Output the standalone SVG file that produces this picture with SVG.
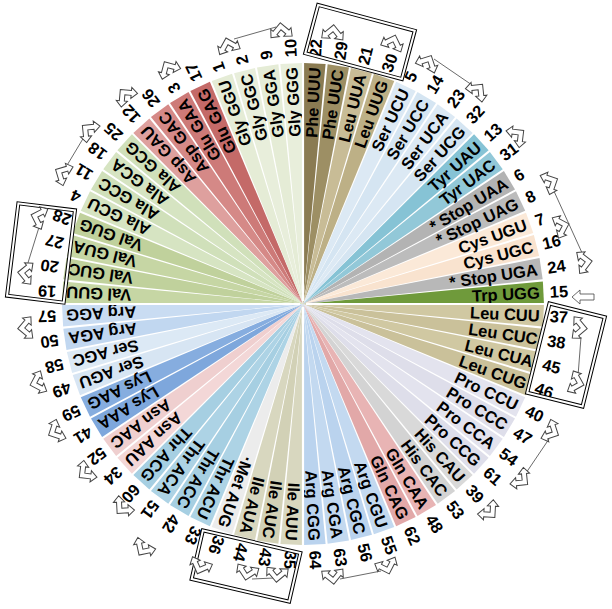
<svg xmlns="http://www.w3.org/2000/svg" xmlns:xlink="http://www.w3.org/1999/xlink" width="612" height="609" viewBox="0 0 612 609">
<style>
.w{stroke:none}
.l{font-family:"Liberation Sans",Arial,sans-serif;font-weight:bold;font-size:16.5px;fill:#000;text-anchor:end;dominant-baseline:central}
.n{font-family:"Liberation Sans",Arial,sans-serif;font-weight:bold;font-size:16.5px;fill:#000;text-anchor:start;dominant-baseline:central}
.a{fill:#fff;stroke:#444;stroke-width:0.8;stroke-linejoin:miter}
.c{fill:none;stroke:#444;stroke-width:0.8}
.g{stroke:#fff;stroke-width:2.2}
.bo{fill:none;stroke:#000;stroke-width:4}
.bi{fill:none;stroke:#fff;stroke-width:2}
</style>
<defs>
<polygon id="w" class="w" points="0,0 240.7,-10.8 240.7,10.8"/>
<path id="ar" d="M0,-5.8 L6.36,0.54 L8.13,-1.23 L8.49,5.49 L1.77,5.13 L3.54,3.36 L0,-0.17 L-3.54,3.36 L-1.77,5.13 L-8.49,5.49 L-8.13,-1.23 L-6.36,0.54 Z"/>
</defs>
<rect width="612" height="609" fill="#fff"/>
<g id="wheel" transform="translate(303,304)">
<g id="n0" transform="rotate(-87.1875)"><use href="#w" fill="#8a7b52"/><text class="l" x="237">Phe UUU</text><text class="n" x="247">22</text></g>
<g id="n1" transform="rotate(-81.5625)"><use href="#w" fill="#9d8f64"/><text class="l" x="237">Phe UUC</text><text class="n" x="247">29</text></g>
<g id="n2" transform="rotate(-75.9375)"><use href="#w" fill="#c8bc96"/><text class="l" x="237">Leu UUA</text><text class="n" x="247">21</text></g>
<g id="n3" transform="rotate(-70.3125)"><use href="#w" fill="#bdb086"/><text class="l" x="237">Leu UUG</text><text class="n" x="247">30</text></g>
<g id="n4" transform="rotate(-64.6875)"><use href="#w" fill="#dce9f4"/><text class="l" x="237">Ser UCU</text><text class="n" x="247">5</text></g>
<g id="n5" transform="rotate(-59.0625)"><use href="#w" fill="#d5e5f2"/><text class="l" x="237">Ser UCC</text><text class="n" x="247">14</text></g>
<g id="n6" transform="rotate(-53.4375)"><use href="#w" fill="#dce9f4"/><text class="l" x="237">Ser UCA</text><text class="n" x="247">23</text></g>
<g id="n7" transform="rotate(-47.8125)"><use href="#w" fill="#d5e5f2"/><text class="l" x="237">Ser UCG</text><text class="n" x="247">32</text></g>
<g id="n8" transform="rotate(-42.1875)"><use href="#w" fill="#86c3d5"/><text class="l" x="237">Tyr UAU</text><text class="n" x="247">13</text></g>
<g id="n9" transform="rotate(-36.5625)"><use href="#w" fill="#92c8d8"/><text class="l" x="237">Tyr UAC</text><text class="n" x="247">31</text></g>
<g id="n10" transform="rotate(-30.9375)"><use href="#w" fill="#b3b3b3"/><text class="l" x="237">* Stop UAA</text><text class="n" x="247">6</text></g>
<g id="n11" transform="rotate(-25.3125)"><use href="#w" fill="#bcbcbc"/><text class="l" x="237">* Stop UAG</text><text class="n" x="247">8</text></g>
<g id="n12" transform="rotate(-19.6875)"><use href="#w" fill="#fbe9d8"/><text class="l" x="237">Cys UGU</text><text class="n" x="247">7</text></g>
<g id="n13" transform="rotate(-14.0625)"><use href="#w" fill="#f9e3cf"/><text class="l" x="237">Cys UGC</text><text class="n" x="247">16</text></g>
<g id="n14" transform="rotate(-8.4375)"><use href="#w" fill="#b8b8b8"/><text class="l" x="237">* Stop UGA</text><text class="n" x="247">24</text></g>
<g id="n15" transform="rotate(-2.8125)"><use href="#w" fill="#6f9a3b"/><text class="l" x="237">Trp UGG</text><text class="n" x="247">15</text></g>
<g id="n16" transform="rotate(2.8125)"><use href="#w" fill="#d0c8a2"/><text class="l" x="237">Leu CUU</text><text class="n" x="247">37</text></g>
<g id="n17" transform="rotate(8.4375)"><use href="#w" fill="#cac19a"/><text class="l" x="237">Leu CUC</text><text class="n" x="247">38</text></g>
<g id="n18" transform="rotate(14.0625)"><use href="#w" fill="#d0c8a2"/><text class="l" x="237">Leu CUA</text><text class="n" x="247">45</text></g>
<g id="n19" transform="rotate(19.6875)"><use href="#w" fill="#cac19a"/><text class="l" x="237">Leu CUG</text><text class="n" x="247">46</text></g>
<g id="n20" transform="rotate(25.3125)"><use href="#w" fill="#e3e3ee"/><text class="l" x="237">Pro CCU</text><text class="n" x="247">40</text></g>
<g id="n21" transform="rotate(30.9375)"><use href="#w" fill="#dedeea"/><text class="l" x="237">Pro CCC</text><text class="n" x="247">47</text></g>
<g id="n22" transform="rotate(36.5625)"><use href="#w" fill="#e3e3ee"/><text class="l" x="237">Pro CCA</text><text class="n" x="247">54</text></g>
<g id="n23" transform="rotate(42.1875)"><use href="#w" fill="#dedeea"/><text class="l" x="237">Pro CCG</text><text class="n" x="247">61</text></g>
<g id="n24" transform="rotate(47.8125)"><use href="#w" fill="#d9d9d9"/><text class="l" x="237">His CAU</text><text class="n" x="247">39</text></g>
<g id="n25" transform="rotate(53.4375)"><use href="#w" fill="#d3d3d3"/><text class="l" x="237">His CAC</text><text class="n" x="247">53</text></g>
<g id="n26" transform="rotate(59.0625)"><use href="#w" fill="#e8b4b4"/><text class="l" x="237">Gln CAA</text><text class="n" x="247">48</text></g>
<g id="n27" transform="rotate(64.6875)"><use href="#w" fill="#e2a8a8"/><text class="l" x="237">Gln CAG</text><text class="n" x="247">62</text></g>
<g id="n28" transform="rotate(70.3125)"><use href="#w" fill="#c3d9f0"/><text class="l" x="237">Arg CGU</text><text class="n" x="247">55</text></g>
<g id="n29" transform="rotate(75.9375)"><use href="#w" fill="#bad3ee"/><text class="l" x="237">Arg CGC</text><text class="n" x="247">56</text></g>
<g id="n30" transform="rotate(81.5625)"><use href="#w" fill="#c3d9f0"/><text class="l" x="237">Arg CGA</text><text class="n" x="247">63</text></g>
<g id="n31" transform="rotate(87.1875)"><use href="#w" fill="#bad3ee"/><text class="l" x="237">Arg CGG</text><text class="n" x="247">64</text></g>
<g id="n32" transform="rotate(92.8125)"><use href="#w" fill="#d8d7bf"/><text class="l" x="237">Ile AUU</text><text class="n" x="247">35</text></g>
<g id="n33" transform="rotate(98.4375)"><use href="#w" fill="#d2d1b6"/><text class="l" x="237">Ile AUC</text><text class="n" x="247">43</text></g>
<g id="n34" transform="rotate(104.0625)"><use href="#w" fill="#d8d7bf"/><text class="l" x="237">Ile AUA</text><text class="n" x="247">44</text></g>
<g id="n35" transform="rotate(109.6875)"><use href="#w" fill="#ececec"/><text class="l" x="237">·Met AUG</text><text class="n" x="247">36</text></g>
<g id="n36" transform="rotate(115.3125)"><use href="#w" fill="#add3e5"/><text class="l" x="237">Thr ACU</text><text class="n" x="247">33</text></g>
<g id="n37" transform="rotate(120.9375)"><use href="#w" fill="#a6cfe2"/><text class="l" x="237">Thr ACC</text><text class="n" x="247">42</text></g>
<g id="n38" transform="rotate(126.5625)"><use href="#w" fill="#add3e5"/><text class="l" x="237">Thr ACA</text><text class="n" x="247">51</text></g>
<g id="n39" transform="rotate(132.1875)"><use href="#w" fill="#a6cfe2"/><text class="l" x="237">Thr ACG</text><text class="n" x="247">60</text></g>
<g id="n40" transform="rotate(137.8125)"><use href="#w" fill="#f3d7d7"/><text class="l" x="237">Asn AAU</text><text class="n" x="247">34</text></g>
<g id="n41" transform="rotate(143.4375)"><use href="#w" fill="#efcfcf"/><text class="l" x="237">Asn AAC</text><text class="n" x="247">52</text></g>
<g id="n42" transform="rotate(149.0625)"><use href="#w" fill="#7ea7dc"/><text class="l" x="237">Lys AAA</text><text class="n" x="247">41</text></g>
<g id="n43" transform="rotate(154.6875)"><use href="#w" fill="#86addf"/><text class="l" x="237">Lys AAG</text><text class="n" x="247">59</text></g>
<g id="n44" transform="rotate(160.3125)"><use href="#w" fill="#d7e5f3"/><text class="l" x="237">Ser AGU</text><text class="n" x="247">49</text></g>
<g id="n45" transform="rotate(165.9375)"><use href="#w" fill="#dce9f5"/><text class="l" x="237">Ser AGC</text><text class="n" x="247">58</text></g>
<g id="n46" transform="rotate(171.5625)"><use href="#w" fill="#c1d7f0"/><text class="l" x="237">Arg AGA</text><text class="n" x="247">50</text></g>
<g id="n47" transform="rotate(177.1875)"><use href="#w" fill="#c9dcf2"/><text class="l" x="237">Arg AGG</text><text class="n" x="247">57</text></g>
<g id="n48" transform="rotate(182.8125)"><use href="#w" fill="#c6d6a4"/><text class="l" x="237">Val GUU</text><text class="n" x="247">19</text></g>
<g id="n49" transform="rotate(188.4375)"><use href="#w" fill="#c0d19c"/><text class="l" x="237">Val GUC</text><text class="n" x="247">20</text></g>
<g id="n50" transform="rotate(194.0625)"><use href="#w" fill="#c6d6a4"/><text class="l" x="237">Val GUA</text><text class="n" x="247">27</text></g>
<g id="n51" transform="rotate(199.6875)"><use href="#w" fill="#c0d19c"/><text class="l" x="237">Val GUG</text><text class="n" x="247">28</text></g>
<g id="n52" transform="rotate(205.3125)"><use href="#w" fill="#d6e4c2"/><text class="l" x="237">Ala GCU</text><text class="n" x="247">4</text></g>
<g id="n53" transform="rotate(210.9375)"><use href="#w" fill="#d0e0ba"/><text class="l" x="237">Ala GCC</text><text class="n" x="247">11</text></g>
<g id="n54" transform="rotate(216.5625)"><use href="#w" fill="#d6e4c2"/><text class="l" x="237">Ala GCA</text><text class="n" x="247">18</text></g>
<g id="n55" transform="rotate(222.1875)"><use href="#w" fill="#d0e0ba"/><text class="l" x="237">Ala GCG</text><text class="n" x="247">25</text></g>
<g id="n56" transform="rotate(227.8125)"><use href="#w" fill="#dea09e"/><text class="l" x="237">Asp GAU</text><text class="n" x="247">12</text></g>
<g id="n57" transform="rotate(233.4375)"><use href="#w" fill="#d58987"/><text class="l" x="237">Asp GAC</text><text class="n" x="247">26</text></g>
<g id="n58" transform="rotate(239.0625)"><use href="#w" fill="#cd7a78"/><text class="l" x="237">Glu GAA</text><text class="n" x="247">3</text></g>
<g id="n59" transform="rotate(244.6875)"><use href="#w" fill="#c46a68"/><text class="l" x="237">Glu GAG</text><text class="n" x="247">17</text></g>
<g id="n60" transform="rotate(250.3125)"><use href="#w" fill="#e5ecd6"/><text class="l" x="237">Gly GGU</text><text class="n" x="247">1</text></g>
<g id="n61" transform="rotate(255.9375)"><use href="#w" fill="#e8eedb"/><text class="l" x="237">Gly GGC</text><text class="n" x="247">2</text></g>
<g id="n62" transform="rotate(261.5625)"><use href="#w" fill="#e5ecd6"/><text class="l" x="237">Gly GGA</text><text class="n" x="247">9</text></g>
<g id="n63" transform="rotate(267.1875)"><use href="#w" fill="#e8eedb"/><text class="l" x="237">Gly GGG</text><text class="n" x="247">10</text></g>
<g id="axes">
<line class="g" x1="-242" y1="0" x2="-3" y2="0"/>
<line class="g" x1="3" y1="0" x2="242" y2="0"/>
<line class="g" x1="0" y1="-242" x2="0" y2="-3"/>
<line class="g" x1="0" y1="3" x2="0" y2="242"/>
</g>
</g>
<g id="boxes">
<rect class="bo" x="-50" y="-25" width="100" height="50" transform="translate(360,42) rotate(15)"/>
<rect class="bi" x="-50" y="-25" width="100" height="50" transform="translate(360,42) rotate(15)"/>
<rect class="bo" x="-28.5" y="-46" width="57" height="92" transform="translate(566,355) rotate(14)"/>
<rect class="bi" x="-28.5" y="-46" width="57" height="92" transform="translate(566,355) rotate(14)"/>
<rect class="bo" x="-50" y="-25" width="100" height="50" transform="translate(246,566) rotate(13)"/>
<rect class="bi" x="-50" y="-25" width="100" height="50" transform="translate(246,566) rotate(13)"/>
<rect class="bo" x="-28.5" y="-46.5" width="57" height="93" transform="translate(41,253) rotate(7)"/>
<rect class="bi" x="-28.5" y="-46.5" width="57" height="93" transform="translate(41,253) rotate(7)"/>
</g>
<g id="connectors">
<line class="c" x1="234" y1="39" x2="276" y2="27"/>
<line class="c" x1="434" y1="59" x2="472" y2="85"/>
<line class="c" x1="553" y1="189" x2="583" y2="255"/>
<line class="c" x1="581" y1="337" x2="578" y2="376"/>
<line class="c" x1="549" y1="439" x2="526" y2="473"/>
<line class="c" x1="381" y1="571" x2="340" y2="579"/>
<line class="c" x1="252" y1="579" x2="274" y2="578"/>
<line class="c" x1="40" y1="224" x2="27" y2="266"/>
<line class="c" x1="66" y1="167" x2="84" y2="137"/>
<use href="#ar" class="a" transform="translate(228,45) rotate(-16) scale(1.25)"/>
<use href="#ar" class="a" transform="translate(281,30) rotate(-5) scale(1.25)"/>
<use href="#ar" class="a" transform="translate(333,32) rotate(6) scale(1.25)"/>
<use href="#ar" class="a" transform="translate(393,42) rotate(19) scale(1.25)"/>
<use href="#ar" class="a" transform="translate(428,62) rotate(27) scale(1.25)"/>
<use href="#ar" class="a" transform="translate(478,90) rotate(39) scale(1.25)"/>
<use href="#ar" class="a" transform="translate(518,135) rotate(52) scale(1.25)"/>
<use href="#ar" class="a" transform="translate(551,182) rotate(64) scale(1.25)"/>
<use href="#ar" class="a" transform="translate(562,226) rotate(73) scale(1.25)"/>
<use href="#ar" class="a" transform="translate(585,262) rotate(82) scale(1.25)"/>
<polygon class="a" points="572,297 580,290 580,294 594,294 594,300 580,300 580,304"/>
<use href="#ar" class="a" transform="translate(580,328) rotate(95) scale(1.25)"/>
<use href="#ar" class="a" transform="translate(577,383) rotate(106) scale(1.25)"/>
<use href="#ar" class="a" transform="translate(552,432) rotate(117) scale(1.25)"/>
<use href="#ar" class="a" transform="translate(522,480) rotate(129) scale(1.25)"/>
<use href="#ar" class="a" transform="translate(490,512) rotate(138) scale(1.25)"/>
<use href="#ar" class="a" transform="translate(387,567) rotate(162) scale(1.25)"/>
<use href="#ar" class="a" transform="translate(333,577) rotate(174) scale(1.25)"/>
<use href="#ar" class="a" transform="translate(277,575) rotate(185) scale(1.25)"/>
<use href="#ar" class="a" transform="translate(247,573) rotate(192) scale(1.25)"/>
<use href="#ar" class="a" transform="translate(200,567) rotate(201) scale(1.25)"/>
<use href="#ar" class="a" transform="translate(143,549) rotate(213) scale(1.25)"/>
<use href="#ar" class="a" transform="translate(122,508) rotate(222) scale(1.25)"/>
<use href="#ar" class="a" transform="translate(85,473) rotate(232) scale(1.25)"/>
<use href="#ar" class="a" transform="translate(55,432) rotate(243) scale(1.25)"/>
<use href="#ar" class="a" transform="translate(37,383) rotate(253) scale(1.25)"/>
<use href="#ar" class="a" transform="translate(25,328) rotate(265) scale(1.25)"/>
<use href="#ar" class="a" transform="translate(25,273) rotate(276) scale(1.25)"/>
<use href="#ar" class="a" transform="translate(38,217) rotate(288) scale(1.25)"/>
<use href="#ar" class="a" transform="translate(62,173) rotate(298) scale(1.25)"/>
<use href="#ar" class="a" transform="translate(88,130) rotate(309) scale(1.25)"/>
<use href="#ar" class="a" transform="translate(125,95) rotate(320) scale(1.25)"/>
<use href="#ar" class="a" transform="translate(168,68) rotate(330) scale(1.25)"/>
</g>
</svg>
